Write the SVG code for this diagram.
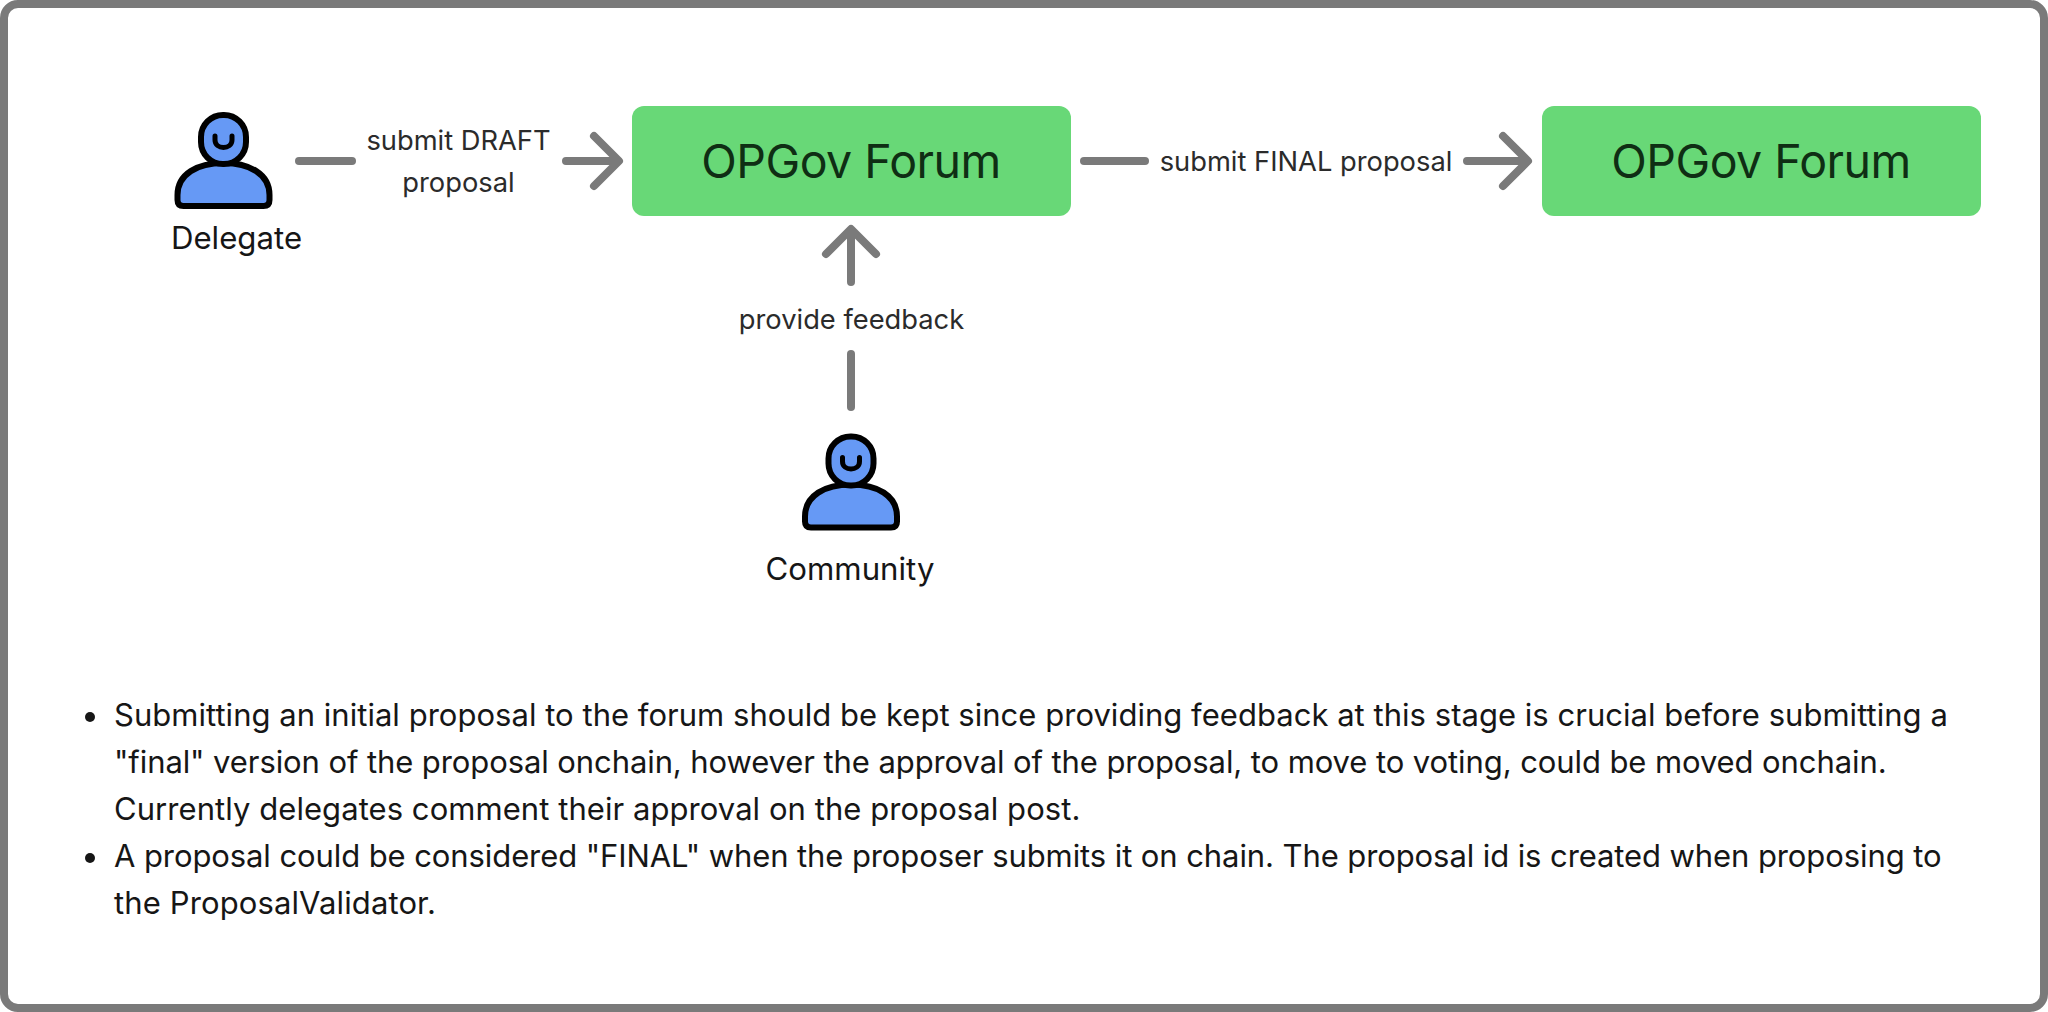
<svg xmlns="http://www.w3.org/2000/svg" width="2048" height="1012" viewBox="0 0 2048 1012">
<style>
text{font-family:Inter,"Liberation Sans",sans-serif}
.box{fill:#68d877}
.boxt{font-size:46.5px;letter-spacing:-.55px;fill:#0f2e14;text-anchor:middle}
.lbl{font-size:27.3px;fill:#2b2b2b;text-anchor:middle}
.who{font-size:31.2px;fill:#161616;text-anchor:middle}
.body{font-size:31px;fill:#161616}
.ln{fill:none;stroke:#7a7a7a;stroke-width:8;stroke-linecap:round;stroke-linejoin:round}
.p{fill:#6699f5;stroke:#000;stroke-width:6;stroke-linejoin:round}
.m{fill:none;stroke:#000;stroke-width:5;stroke-linecap:round}
</style>
<defs>
<g id="person">
<path class="p" d="M-46 37V32C-46 11-26 0 0 0S46 11 46 32V37Q46 43 40 43H-40Q-46 43-46 37Z"/>
<rect class="p" x="-22.500" y="-48" width="45" height="49" rx="22" ry="22"/>
<path class="m" d="M-8.500-27V-23C-8.500-13 8.500-13 8.500-23V-27"/>
</g>
</defs>
<rect x="4" y="4" width="2040" height="1004" rx="14" fill="#fff" stroke="#7a7a7a" stroke-width="8"/>
<g id="connectors">
<path class="ln" d="M299 161H352"/>
<path class="ln" d="M566 161H617M594 136L619 161L594 186"/>
<path class="ln" d="M1084 161H1145"/>
<path class="ln" d="M1467 161H1526M1503 136L1528 161L1503 186"/>
<path class="ln" d="M851 282V231M826 254L851 229L876 254"/>
<path class="ln" d="M851 407V354"/>
</g>
<g id="label-draft"><text class="lbl" x="458.500" y="150">submit DRAFT</text><text class="lbl" x="458.500" y="192">proposal</text></g>
<g id="label-final"><text class="lbl" x="1306" y="171">submit FINAL proposal</text></g>
<g id="label-feedback"><text class="lbl" x="851.500" y="329">provide feedback</text></g>
<g id="forum-1"><rect class="box" x="632" y="106" width="439" height="110" rx="12"/><text class="boxt" x="851" y="178">OPGov Forum</text></g>
<g id="forum-2"><rect class="box" x="1542" y="106" width="439" height="110" rx="12"/><text class="boxt" x="1761" y="178">OPGov Forum</text></g>
<g id="delegate"><use href="#person" x="223.500" y="163"/><text class="who" x="236.500" y="249">Delegate</text></g>
<g id="community"><use href="#person" x="851" y="484.500"/><text class="who" x="850" y="580">Community</text></g>
<g id="notes">
<circle cx="90" cy="717" r="5" fill="#161616"/>
<circle cx="90" cy="858" r="5" fill="#161616"/>
<text class="body" x="114" y="726" letter-spacing=".03">Submitting an initial proposal to the forum should be kept since providing feedback at this stage is crucial before submitting a</text>
<text class="body" x="114" y="773" letter-spacing="-.09">"final" version of the proposal onchain, however the approval of the proposal, to move to voting, could be moved onchain.</text>
<text class="body" x="114" y="820" letter-spacing=".06">Currently delegates comment their approval on the proposal post.</text>
<text class="body" x="114" y="867" letter-spacing="-.09">A proposal could be considered "FINAL" when the proposer submits it on chain. The proposal id is created when proposing to</text>
<text class="body" x="114" y="914" letter-spacing=".12">the ProposalValidator.</text>
</g>
</svg>
